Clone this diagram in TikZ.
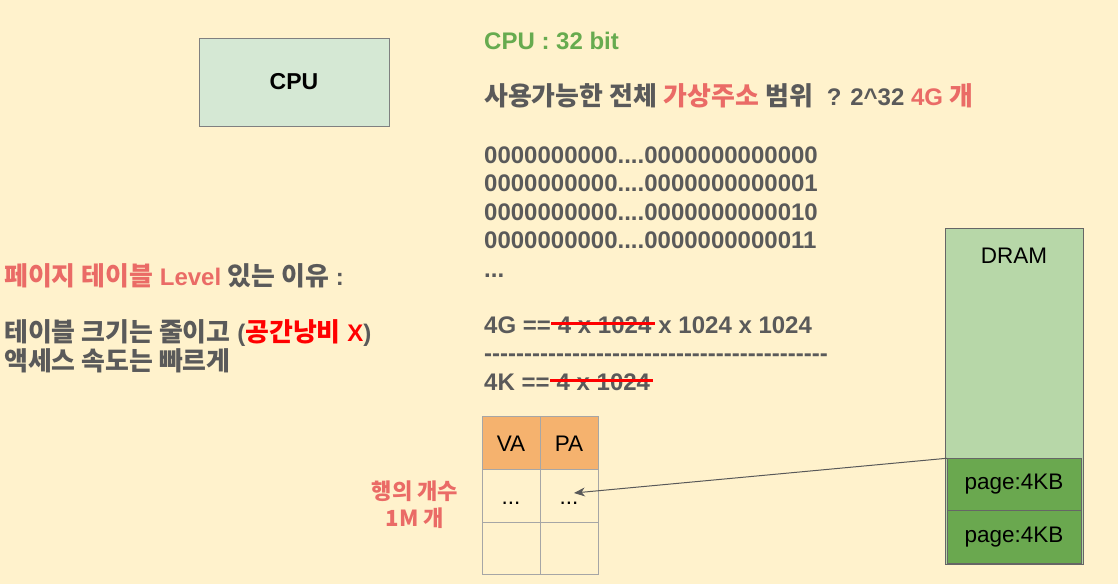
\documentclass[tikz,border=0pt]{standalone}
\usepackage{fontspec}
\setmainfont{Liberation Sans}
\newfontfamily\kr{Noto Sans CJK KR}[Scale=1.08]
\usetikzlibrary{positioning,arrows.meta}
\usepackage{xcolor}
\definecolor{bgY}{HTML}{FFF2CC}
\definecolor{grayT}{HTML}{5A5A5A}
\definecolor{pinkT}{HTML}{EA6B66}
\definecolor{greenT}{HTML}{67AB4F}
\definecolor{cpuFill}{HTML}{D5E8D4}
\definecolor{hdrFill}{HTML}{F5B26E}
\definecolor{cellLine}{HTML}{A6A6A6}
\definecolor{dramFill}{HTML}{B7D7A8}
\definecolor{pageFill}{HTML}{6AA84F}
\newcommand\ko[1]{{\kr #1}}
\newcommand\hyphens[1]{\foreach \k in {1,...,#1}{-}}

\begin{document}
\begin{tikzpicture}[x=1pt, y=-1pt,
  txt/.style={anchor=base west, inner sep=0pt, text=grayT,
              font=\fontsize{24}{28.5}\selectfont\bfseries},
  cell/.style={draw=cellLine, fill=bgY, line width=1pt, outer sep=0pt,
               minimum width=58pt, minimum height=53pt, inner sep=0pt,
               text height=17pt, text depth=0pt,
               font=\fontsize{22.5}{27}\selectfont},
  hdr/.style={cell, fill=hdrFill},
  page/.style={draw=black!60, fill=pageFill, line width=1pt, outer sep=0pt,
               minimum width=134pt, minimum height=52.5pt,
               font=\fontsize{22.5}{27}\selectfont},
  strike/.style={draw=red, line width=3pt},
  arr/.style={-{Stealth[length=11pt,width=9pt]}, line width=1pt, color=black!65},
]
\path[use as bounding box, fill=bgY] (0,0) rectangle (1118,584);
% ---- CPU box ----
\node[draw=black!50, fill=cpuFill, line width=1pt, minimum width=190pt,
      minimum height=88pt, font=\fontsize{23}{27}\selectfont\bfseries]
      at (294,82) (cpu) {CPU};
% ---- address range text (right column) ----
\node[txt, text=greenT] at (484,49.3) (bits32) {CPU : 32 bit};
\node[txt] at (484,105) (range) {\ko{사용가능한 전체} {\color{pinkT}\ko{가상주소}} \ko{범위}\ \ ? 2\textasciicircum32 {\color{pinkT}4G \ko{개}}};
\node[txt] at (484,163.3) (addr0) {0000000000....0000000000000};
\node[txt] at (484,191.8) (addr1) {0000000000....0000000000001};
\node[txt] at (484,220.3) (addr2) {0000000000....0000000000010};
\node[txt] at (484,248.8) (addr3) {0000000000....0000000000011};
\node[txt] at (484,277.3) (addrdots) {...};
% 4G / 4K with the struck-out factor
\node[txt] at (484,333.3) (g4a) {4G ==};
\node[txt] at (g4a.base east) (g4b) {\ 4 x 1024};
\node[txt] at (g4b.base east) (g4c) {\ x 1024 x 1024};
\node[txt] at (484,361) (divide) {\hyphens{43}};
\node[txt] at (484,390.7) (k4a) {4K ==};
\node[txt] at (k4a.base east) (k4b) {\ 4 x 1024};
\draw[strike] ([yshift=10pt]g4b.base west) -- ([yshift=10pt,xshift=3pt]g4b.base east);
\draw[strike] ([yshift=10pt]k4b.base west) -- ([yshift=10pt,xshift=3pt]k4b.base east);
% ---- reason text (left) ----
\node[txt] at (4,285) (why) {{\color{pinkT}\ko{페이지 테이블} Level} \ko{있는 이유} :};
\node[txt] at (4,341.5) (why1) {\ko{테이블 크기는 줄이고} ({\color{red}\ko{공간낭비} X})};
\node[txt] at (4,370) (why2) {\ko{액세스 속도는 빠르게}};
% ---- page table ----
\node[hdr] at (511,442.5) (va0) {VA};
\node[hdr, right=0pt of va0] (pa0) {PA};
\node[cell, below=0pt of va0] (va1) {...\hspace{12pt}};
\node[cell, below=0pt of pa0] (pa1) {...\hspace{12pt}};
\node[cell, below=0pt of va1, minimum height=52pt] (va2) {};
\node[cell, below=0pt of pa1, minimum height=52pt] (pa2) {};
\node[align=center, text=pinkT, inner sep=0pt,
      font=\fontsize{20.5}{27}\selectfont\bfseries\kr] at (415,505) (rows) {행의 개수\\1M 개};
% ---- DRAM ----
\node[draw=black!60, fill=dramFill, line width=1pt, minimum width=138pt,
      minimum height=336pt] at (1014,396) (dram) {};
\node[inner sep=0pt, anchor=north, font=\fontsize{22.5}{27}\selectfont]
     at ([yshift=-20pt]dram.north) (dramlbl) {DRAM};
\node[page] at (1014,484.5) (page1) {page:4KB};
\node[page, below=0pt of page1] (page2) {page:4KB};
\coordinate (patip) at (574,493);
\draw[arr] (page1.north west) -- (patip);
\end{tikzpicture}
\end{document}
